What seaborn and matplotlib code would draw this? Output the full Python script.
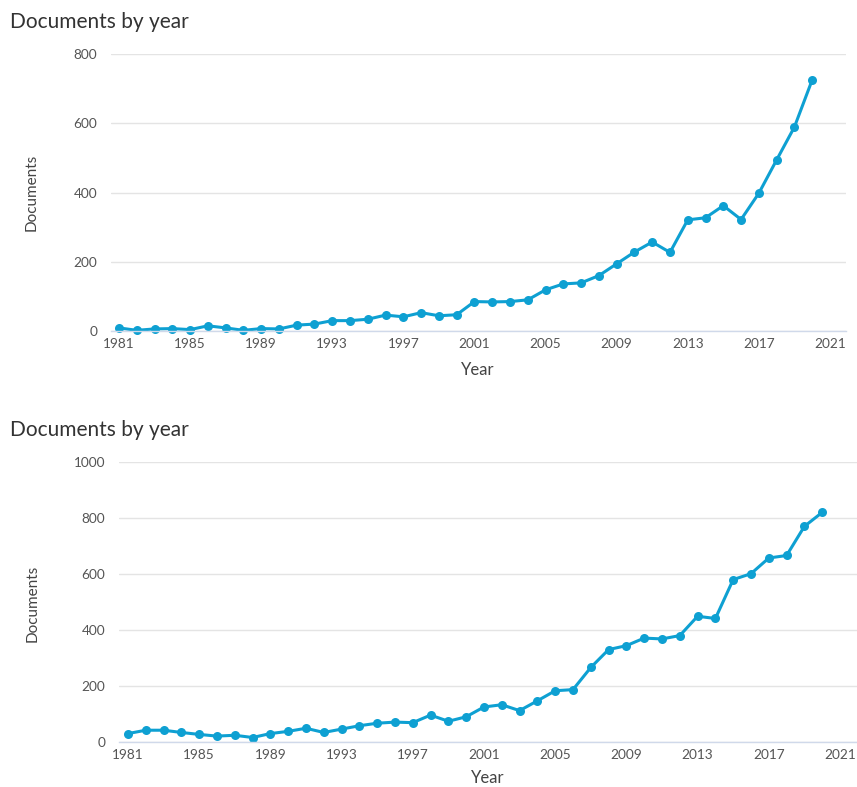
import numpy as np
import pandas as pd
import matplotlib
matplotlib.use('Agg')
import matplotlib.pyplot as plt
import seaborn as sns

years = list(range(1981, 2021))
docs_top = [9, 2, 6, 7, 4, 15, 9, 2, 7, 6,
            17, 20, 30, 30, 34, 46, 41, 53, 44, 47,
            85, 84, 85, 90, 119, 136, 139, 160, 194, 228,
            257, 227, 321, 327, 362, 322, 398, 494, 589, 725]
docs_bottom = [30, 42, 42, 34, 27, 21, 24, 16, 30, 38,
               49, 34, 46, 58, 67, 71, 69, 96, 74, 90,
               125, 133, 112, 147, 183, 187, 266, 330, 344, 371,
               368, 380, 449, 441, 580, 601, 657, 666, 770, 820]
xticks = list(range(1981, 2022, 4))

line_color = '#0ea0d2'
text_color = '#555555'

sns.set_theme(style="white")
plt.rcParams['font.family'] = ['Lato', 'DejaVu Sans']

fig = plt.figure(figsize=(8.57, 7.87), dpi=100)

panels = [
    dict(values=docs_top, rect=[0.1295, 0.5794, 0.8576, 0.352], ylim=(0, 800),
         yticks=[0, 200, 400, 600, 800], xlim=(1980.55, 2021.9),
         title_y=0.972, ylab=(-0.098, 0.50), xlab=(0.499, -0.112)),
    dict(values=docs_bottom, rect=[0.1389, 0.0572, 0.861, 0.3558], ylim=(0, 1000),
         yticks=[0, 200, 400, 600, 800, 1000], xlim=(1980.5, 2021.95),
         title_y=0.4536, ylab=(-0.108, 0.496), xlab=(0.50, -0.100)),
]

for p in panels:
    ax = fig.add_axes(p['rect'])
    df = pd.DataFrame({'Year': years, 'Documents': p['values']})
    sns.lineplot(data=df, x='Year', y='Documents', ax=ax, color=line_color,
                 linewidth=2.2, marker='o', markersize=6.5, markeredgewidth=0,
                 clip_on=False)
    ax.set_xlim(*p['xlim'])
    ax.set_ylim(*p['ylim'])
    ax.set_xticks(xticks)
    ax.set_yticks(p['yticks'])
    ax.grid(axis='y', color='#e4e4e4', linewidth=1)
    ax.grid(axis='x', visible=False)
    for s in ['top', 'right', 'left']:
        ax.spines[s].set_visible(False)
    ax.spines['bottom'].set_color('#d0d9ea')
    ax.spines['bottom'].set_linewidth(1)
    ax.tick_params(axis='both', length=0, labelsize=9.8, colors=text_color)
    ax.tick_params(axis='y', pad=10)
    ax.tick_params(axis='x', pad=5)
    ax.set_xlabel('Year', fontsize=12, color='#444444')
    ax.set_ylabel('Documents', fontsize=11, color='#444444')
    ax.xaxis.set_label_coords(*p['xlab'])
    ax.yaxis.set_label_coords(*p['ylab'])
    fig.text(0.0117, p['title_y'], 'Documents by year', fontsize=15,
             color='#333333', va='center', ha='left')

plt.savefig('out.png', dpi=100)
plt.close()
